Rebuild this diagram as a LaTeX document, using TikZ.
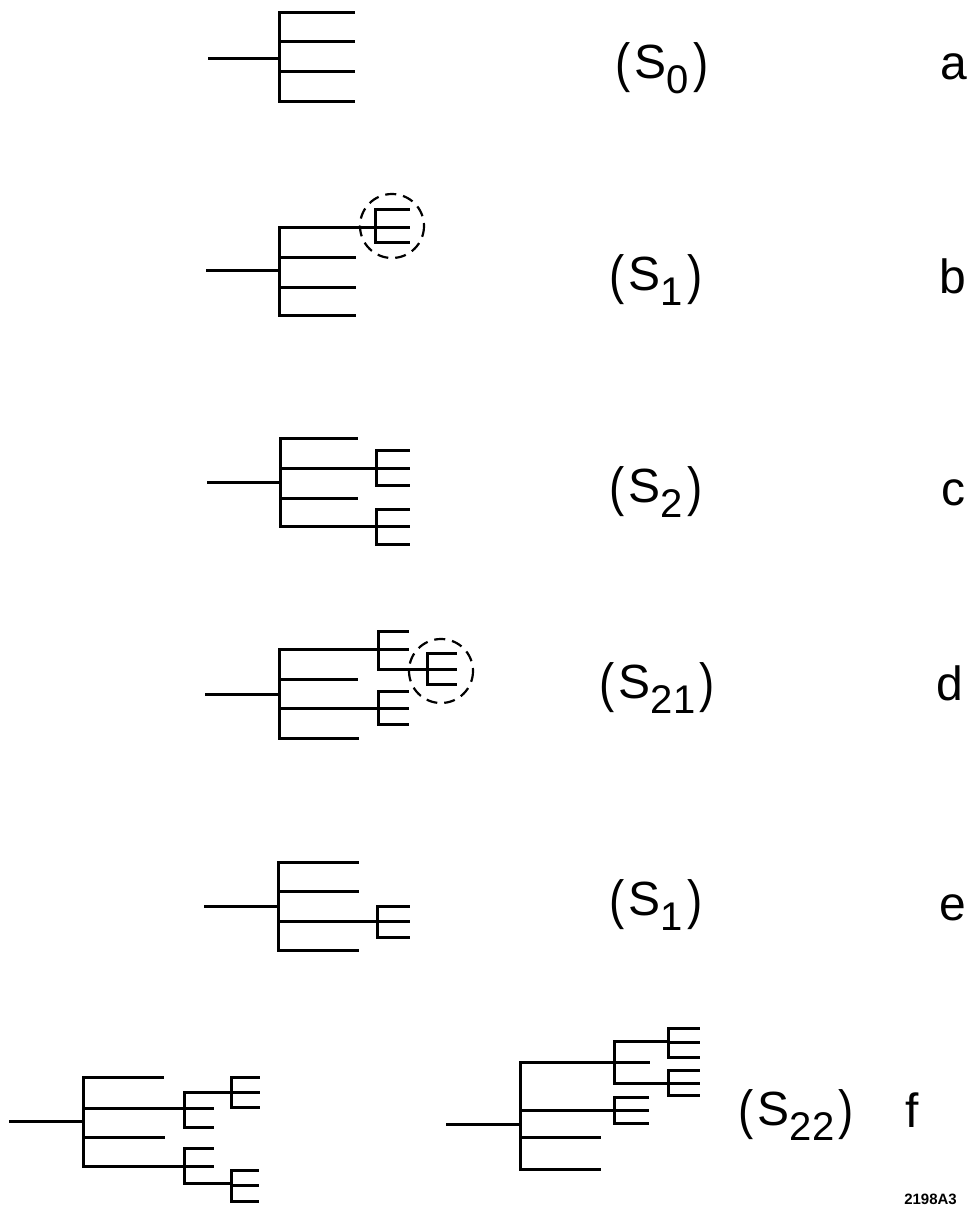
\documentclass[tikz,border=0pt]{standalone}
\usepackage{fontspec}
\setmainfont{Liberation Sans}
\newcommand\lsub[1]{\raisebox{-15pt}{\fontsize{40}{40}\selectfont #1}}
\newcommand\lpar[1]{\raisebox{-3pt}{\scalebox{0.95}[1.12]{#1}}}
\newcommand\lab[1]{{\fontsize{48}{52}\selectfont\lpar{(}\kern4pt S\lsub{#1}\kern4pt\lpar{)}}}
\newcommand\fk[4]{\draw[tree] (#1,#2)--(#1,#3); \foreach \yy/\xe in {#4} {\draw[tree] (#1,\yy)--(\xe,\yy);}}
\tikzset{
  tree/.style={line width=3pt, line cap=rect},
  ring/.style={line width=2.2pt, dash pattern=on 11pt off 7pt},
  lbl/.style={anchor=base, inner sep=0pt, font=\fontsize{48}{52}\selectfont},
  let/.style={anchor=base, inner sep=0pt, font=\fontsize{48}{52}\selectfont},
}
\begin{document}
\begin{tikzpicture}[x=1pt,y=-1pt]
\useasboundingbox (0,0) rectangle (967,1207);
% row a
\draw[tree] (209,59)--(279,59);
\fk{279}{13}{101}{13/353,42/353,72/353,101/353}
% row b
\draw[tree] (207,270)--(279,270);
\fk{279}{227}{315}{227/375,257/354,287/354,315/354}
\fk{375}{209}{242}{209/408,227/408,242/408}
\draw[ring] (392,226) circle (32);
% row c
\draw[tree] (208,482)--(280,482);
\fk{280}{438}{526}{438/356,468/376,498/356,526/376}
\fk{376}{450}{485}{450/408,468/408,485/408}
\fk{376}{509}{544}{509/408,526/408,544/408}
% row d
\draw[tree] (206,694)--(279,694);
\fk{279}{649}{738}{649/378,679/356,708/378,738/357}
\fk{378}{631}{669}{631/407,649/407,669/427}
\fk{427}{653}{684}{653/455,669/455,684/455}
\fk{378}{691}{724}{691/407,708/407,724/407}
\draw[ring] (441,671) circle (32);
% row e
\draw[tree] (205,906)--(278,906);
\fk{278}{862}{950}{862/357,891/357,921/377,950/357}
\fk{377}{906}{937}{906/408,921/408,937/408}
% row f left
\draw[tree] (10,1121)--(83,1121);
\fk{83}{1077}{1166}{1077/162,1108/184,1137/163,1166/184}
\fk{184}{1092}{1127}{1092/231,1108/212,1127/212}
\fk{231}{1077}{1107}{1077/258,1092/258,1107/258}
\fk{184}{1148}{1183}{1148/212,1166/212,1183/231}
\fk{231}{1170}{1201}{1170/257,1185/257,1201/257}
% row f right
\draw[tree] (447,1124)--(520,1124);
\fk{520}{1062}{1169}{1062/614,1110/614,1137/599,1169/599}
\fk{614}{1041}{1083}{1041/668,1062/648,1083/668}
\fk{668}{1028}{1057}{1028/698,1042/698,1057/698}
\fk{668}{1070}{1095}{1070/698,1083/698,1095/698}
\fk{614}{1097}{1123}{1097/647,1110/647,1123/647}
% labels
\node[lbl] (la) at (662,78) {\lab{0}};
\node[let] (ka) at (954,80) {a};
\node[lbl] (lb) at (656,290) {\lab{1}};
\node[let] (kb) at (953,293) {b};
\node[lbl] (lc) at (656,502) {\lab{2}};
\node[let] (kc) at (953,505) {c};
\node[lbl] (ld) at (657,698) {\lab{21}};
\node[let] (kd) at (950,700) {d};
\node[lbl] (le) at (656,915) {\lab{1}};
\node[let] (ke) at (953,920) {e};
\node[lbl] (lf) at (796,1125) {\lab{22}};
\node[let] (kf) at (912,1127) {f};
\node[anchor=base east, inner sep=0pt, font=\fontsize{15}{16}\selectfont\bfseries] (num) at (957,1204) {2198A3};
\end{tikzpicture}
\end{document}
